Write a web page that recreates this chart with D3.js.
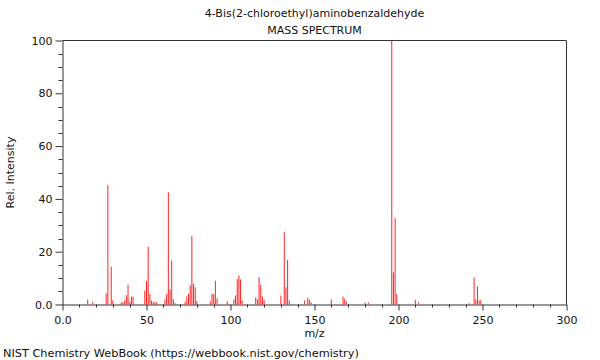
<!DOCTYPE html>
<html>
<head>
<meta charset="utf-8">
<script src="https://cdn.jsdelivr.net/npm/d3@7"></script>
<style>
  body { margin: 0; background: #fff; }
  svg { display: block; font-family: "DejaVu Sans", sans-serif; }
  text { fill: #111; }
</style>
</head>
<body>
<svg id="chart" width="600" height="360"></svg>
<script>
// peaks (m/z, relative intensity)
const mzValues = [15, 18, 26, 27, 29, 30, 35, 36, 37, 38, 39, 40, 41, 42,
    49, 50, 51, 52, 53, 54, 55, 56, 61, 62, 63, 64, 65, 66, 67,
    73, 74, 75, 76, 77, 78, 79, 80, 88, 89, 90, 91, 92, 98,
    102, 103, 104, 105, 106, 107, 115, 116, 117, 118, 119, 120,
    130, 132, 133, 134, 135, 144, 146, 147, 148, 160, 167, 168, 169,
    180, 182, 196, 197, 198, 199, 210, 212, 242, 245, 246, 247, 248, 249];
const intensities = [1.9, 1.0, 4.3, 45.3, 14.3, 1.6, 0.8, 0.8, 1.5, 3.5, 7.5, 1.0, 3.0, 3.0,
    5.3, 9.0, 21.9, 4.0, 1.5, 1.0, 0.8, 0.8, 1.9, 4.0, 42.5, 5.7, 16.6, 1.9, 0.5,
    1.0, 3.1, 4.0, 7.3, 26.0, 7.9, 6.5, 1.3, 1.2, 4.1, 4.0, 9.0, 2.3, 1.2,
    1.9, 3.4, 9.7, 11.0, 9.5, 1.5, 2.7, 1.9, 10.4, 7.5, 3.1, 1.7,
    3.4, 27.4, 6.5, 16.9, 1.5, 1.5, 2.6, 1.8, 0.8, 1.9, 3.0, 2.2, 1.0,
    0.8, 0.8, 100, 12.2, 32.7, 4.0, 1.8, 0.8, 0.5, 10.2, 1.9, 6.8, 1.5, 1.6];

const xMajorTicks = [0, 50, 100, 150, 200, 250, 300];
const yMajorTicks = [0, 20, 40, 60, 80, 100];
const titleText = '4-Bis(2-chloroethyl)aminobenzaldehyde';
const subtitleText = 'MASS SPECTRUM';
const xLabel = 'm/z';
const yLabel = 'Rel. Intensity';
const footerText = 'NIST Chemistry WebBook (https://webbook.nist.gov/chemistry)';

const svg = d3.select('#chart');
const plotLeft = 62.5, plotRight = 566.5, plotTop = 40.5, plotBottom = 304.5;

const x = d3.scaleLinear().domain([0, 300]).range([plotLeft, plotRight]);
const y = d3.scaleLinear().domain([0, 100]).range([plotBottom, plotTop]);

const fmt = d => d === 0 ? '0.0' : String(d);

// minor ticks
const xMinor = d3.range(0, 301, 10).filter(v => v % 50 !== 0);
const yMinor = d3.range(0, 101, 5).filter(v => v % 20 !== 0);

const axisColor = '#333';

svg.append('g')
    .selectAll('line')
    .data(xMinor)
    .join('line')
    .attr('x1', d => Math.round(x(d)) + 0.5)
    .attr('x2', d => Math.round(x(d)) + 0.5)
    .attr('y1', plotBottom)
    .attr('y2', plotBottom + 3)
    .attr('stroke', axisColor);

svg.append('g')
    .selectAll('line')
    .data(yMinor)
    .join('line')
    .attr('y1', d => Math.round(y(d)) + 0.5)
    .attr('y2', d => Math.round(y(d)) + 0.5)
    .attr('x1', plotLeft)
    .attr('x2', plotLeft - 4)
    .attr('stroke', axisColor);

// major axes
const xAxis = d3.axisBottom(x).tickValues(xMajorTicks).tickFormat(fmt).tickSize(6).tickSizeOuter(0);
const yAxis = d3.axisLeft(y).tickValues(yMajorTicks).tickFormat(fmt).tickSize(7).tickSizeOuter(0);

const gx = svg.append('g').attr('transform', `translate(0,${plotBottom})`).call(xAxis);
const gy = svg.append('g').attr('transform', `translate(${plotLeft},0)`).call(yAxis);
[gx, gy].forEach(g => {
    g.select('.domain').attr('stroke', axisColor);
    g.selectAll('.tick line').attr('stroke', axisColor);
    g.selectAll('.tick text')
        .attr('font-size', 11)
        .attr('font-family', '"DejaVu Sans", sans-serif')
        .attr('fill', '#111');
});
gx.selectAll('.tick text').attr('dy', '0.95em');

// frame: top and right
svg.append('line')
    .attr('x1', plotLeft).attr('x2', plotRight)
    .attr('y1', plotTop).attr('y2', plotTop)
    .attr('stroke', axisColor);
svg.append('line')
    .attr('x1', plotRight).attr('x2', plotRight)
    .attr('y1', plotTop).attr('y2', plotBottom)
    .attr('stroke', axisColor);

// peaks
const peaks = mzValues.map((m, i) => ({ mz: m, rel: intensities[i] }));
svg.append('g')
    .selectAll('line')
    .data(peaks)
    .join('line')
    .attr('x1', d => x(d.mz))
    .attr('x2', d => x(d.mz))
    .attr('y1', plotBottom)
    .attr('y2', d => y(d.rel))
    .attr('stroke', '#ff2020')
    .attr('stroke-width', 1);

// texts
const cx = (plotLeft + plotRight) / 2;
svg.append('text').attr('x', cx).attr('y', 17)
    .attr('text-anchor', 'middle').attr('font-size', 11).text(titleText);
svg.append('text').attr('x', cx).attr('y', 34)
    .attr('text-anchor', 'middle').attr('font-size', 11).text(subtitleText);
svg.append('text').attr('x', cx).attr('y', 337)
    .attr('text-anchor', 'middle').attr('font-size', 11).text(xLabel);
svg.append('text')
    .attr('transform', `translate(14,${(plotTop + plotBottom) / 2}) rotate(-90)`)
    .attr('text-anchor', 'middle').attr('font-size', 11).text(yLabel);
svg.append('text').attr('x', 3).attr('y', 357)
    .attr('font-size', 11.3).text(footerText);
</script>
</body>
</html>
